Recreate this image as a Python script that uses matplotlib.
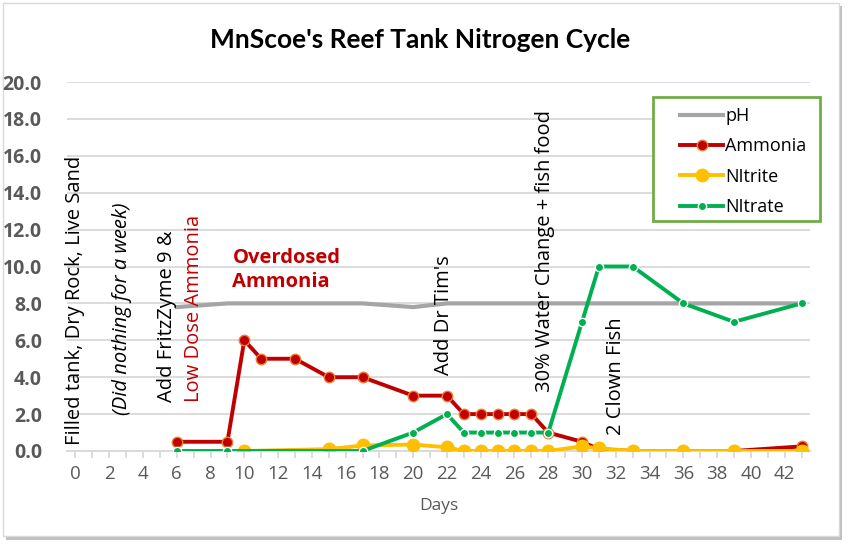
import matplotlib.pyplot as plt
from matplotlib.patches import Rectangle
from matplotlib.ticker import MultipleLocator

plt.rcParams['font.family'] = ['Open Sans', 'DejaVu Sans']

# Readings taken from the chart (days on x, values on y)
ph_days = [6, 9, 10, 11, 13, 15, 17, 20, 22, 23, 24, 25, 26, 27, 28, 30, 31, 33, 36, 39, 43]
ph_vals = [7.8, 8.0, 8.0, 8.0, 8.0, 8.0, 8.0, 7.8, 8.0, 8.0, 8.0, 8.0, 8.0, 8.0, 8.0, 8.0, 8.0, 8.0, 8.0, 8.0, 8.0]

ammonia_days = [6, 9, 10, 11, 13, 15, 17, 20, 22, 23, 24, 25, 26, 27, 28, 30, 31, 33, 36, 39, 43]
ammonia_vals = [0.5, 0.5, 6.0, 5.0, 5.0, 4.0, 4.0, 3.0, 3.0, 2.0, 2.0, 2.0, 2.0, 2.0, 1.0, 0.5, 0.1, 0.0, 0.0, 0.0, 0.25]

nitrite_days = [10, 15, 17, 20, 22, 23, 24, 25, 26, 27, 28, 30, 31, 33, 36, 39, 43]
nitrite_vals = [0.0, 0.1, 0.3, 0.35, 0.2, 0.0, 0.0, 0.0, 0.0, 0.0, 0.0, 0.25, 0.15, 0.0, 0.0, 0.0, 0.0]

nitrate_days = [6, 9, 17, 20, 22, 23, 24, 25, 26, 27, 28, 30, 31, 33, 36, 39, 43]
nitrate_vals = [0, 0, 0, 1, 2, 1, 1, 1, 1, 1, 1, 7, 10, 10, 8, 7, 8]

fig = plt.figure(figsize=(8.49, 5.44), dpi=100)
ax = fig.add_axes([67 / 849, 1 - 451 / 544, (810 - 67) / 849, (451 - 82) / 544])

# chart frame with a soft shadow, like the spreadsheet export
fig.patches.append(Rectangle((6 / 849, 1 - 540 / 544), 836 / 849, 534 / 544,
                             transform=fig.transFigure, facecolor='#BFBFBF', edgecolor='none', zorder=-3))
fig.patches.append(Rectangle((3 / 849, 1 - 536 / 544), 836 / 849, 533 / 544,
                             transform=fig.transFigure, facecolor='white', edgecolor='#D9D9D9', lw=1, zorder=-2))
ax.patch.set_alpha(0)

ax.plot(ph_days, ph_vals, color='#A5A5A5', lw=3, label='pH', zorder=2)
ax.plot(ammonia_days, ammonia_vals, color='#C00000', lw=2.8, marker='o', ms=7.5,
        mfc='#C00000', mec='#ED7D31', mew=1, label='Ammonia', zorder=3)
ax.plot(nitrite_days, nitrite_vals, color='#FFC000', lw=2.8, marker='o', ms=9,
        mfc='#FFC000', mec='#FFC000', label='NItrite', zorder=4)
ax.plot(nitrate_days, nitrate_vals, color='#00B050', lw=2.8, marker='o', ms=6,
        mfc='#00B050', mec='white', mew=1, label='NItrate', zorder=5)

ax.set_xlim(-0.5, 43.5)
ax.set_ylim(0, 20)
ax.xaxis.set_major_locator(MultipleLocator(2))
ax.xaxis.set_minor_locator(MultipleLocator(1))
ax.yaxis.set_major_locator(MultipleLocator(2))
ax.yaxis.set_major_formatter(lambda v, p: f'{v:.1f}')
ax.grid(axis='y', color='#D9D9D9', lw=1.3)
ax.set_axisbelow(True)
for s in ['top', 'right', 'left']:
    ax.spines[s].set_visible(False)
ax.spines['bottom'].set_color('#D9D9D9')
ax.spines['bottom'].set_linewidth(1.3)
ax.tick_params(axis='y', length=0, pad=18, labelsize=14, labelcolor='#595959')
ax.tick_params(axis='x', which='both', length=5, color='#D9D9D9', width=1.3,
               labelsize=13.5, labelcolor='#595959', pad=5)
for t in ax.get_yticklabels():
    t.set_fontweight('bold')
ax.set_xlabel('Days', fontsize=12.5, color='#595959', labelpad=11)

fig.text(0.495, 1 - 40 / 544, "MnScoe's Reef Tank Nitrogen Cycle", ha='center', va='center',
         fontsize=19, fontweight='bold', color='black', family=['Lato', 'DejaVu Sans'])

# event notes along the timeline
note = dict(rotation=90, ha='center', va='bottom', fontsize=14.5, zorder=6)
ax.text(0.0, 0.3, 'Filled tank, Dry Rock, Live Sand', color='black', **note)
ax.text(2.75, 1.95, '(Did nothing for a week)', color='black', style='italic', **note)
ax.text(5.4, 2.65, 'Add FritzZyme 9 &', color='black', **note)
ax.text(7.05, 2.65, 'Low Dose Ammonia', color='#C00000', **note)
ax.text(21.85, 4.1, "Add Dr Tim's", color='black', **note)
ax.text(27.8, 3.2, '30% Water Change + fish food', color='black', **note)
ax.text(32.0, 0.87, '2 Clown Fish', color='black', **note)
ax.text(9.3, 9.8, 'Overdosed\nAmmonia', color='#C00000', fontsize=14.5, fontweight='bold',
        ha='left', va='center', linespacing=1.25, zorder=6)

# legend box drawn separately so its padding can match the original
ax.add_patch(Rectangle((653 / 849, 1 - 221 / 544), 167 / 849, 124 / 544,
                       transform=fig.transFigure, facecolor='white', edgecolor='#70AD47',
                       lw=2, zorder=9, clip_on=False))
leg = ax.legend(loc='upper left', bbox_to_anchor=(680 / 849, 1 - 107 / 544), bbox_transform=fig.transFigure,
                fontsize=13, frameon=False, handlelength=2.4, labelspacing=0.68,
                borderpad=0, handletextpad=0.1, borderaxespad=0)
leg.set_zorder(10)

fig.savefig('out.png', dpi=100)
